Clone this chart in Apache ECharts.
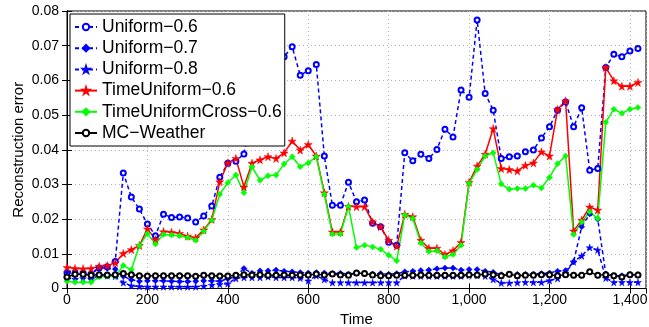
<!DOCTYPE html>
<html>
<head>
<meta charset="utf-8">
<script src="https://cdn.jsdelivr.net/npm/echarts@6/dist/echarts.min.js"></script>
<style>
html,body{margin:0;padding:0;background:#fff;}
#c{width:649px;height:327px;}
</style>
</head>
<body>
<div id="c"></div>
<script>
// Time axis: samples every 20 units
const times = [];
for (let t = 0; t <= 1420; t += 20) times.push(t);

const xTicks = [0, 200, 400, 600, 800, 1000, 1200, 1400];
const yTicks = [0, 0.01, 0.02, 0.03, 0.04, 0.05, 0.06, 0.07, 0.08];

const seriesNames = ['Uniform\u22120.6', 'Uniform\u22120.7', 'Uniform\u22120.8', 'TimeUniform\u22120.6', 'TimeUniformCross\u22120.6', 'MC\u2212Weather'];

const uniform06 = [0.0045,0.0044,0.0043,0.0041,0.0059,0.0063,0.0078,0.0333,0.0264,0.0229,
0.0186,0.0152,0.0214,0.0205,0.0206,0.0203,0.0192,0.0209,0.0238,0.0321,
0.0361,0.0367,0.0388,0.0500,0.0600,0.0640,0.0660,0.0668,0.0697,0.0615,
0.0628,0.0646,0.0382,0.0240,0.0240,0.0306,0.0250,0.0255,0.0188,0.0178,
0.0133,0.0125,0.0391,0.0368,0.0387,0.0375,0.0401,0.0459,0.0437,0.0572,
0.0551,0.0774,0.0562,0.0514,0.0375,0.0380,0.0382,0.0394,0.0399,0.0434,
0.0466,0.0514,0.0538,0.0466,0.0521,0.0341,0.0346,0.0637,0.0675,0.0668,
0.0685,0.0692];

const uniform07 = [0.0049,0.0051,0.0049,0.0044,0.0060,0.0058,0.0056,0.0035,0.0025,0.0021,
0.0022,0.0022,0.0022,0.0021,0.0020,0.0020,0.0021,0.0022,0.0022,0.0021,
0.0028,0.0034,0.0058,0.0044,0.0051,0.0051,0.0053,0.0050,0.0048,0.0046,
0.0045,0.0046,0.0045,0.0043,0.0044,0.0042,0.0044,0.0043,0.0042,0.0043,
0.0041,0.0043,0.0048,0.0050,0.0052,0.0053,0.0057,0.0059,0.0059,0.0053,
0.0055,0.0055,0.0050,0.0047,0.0040,0.0040,0.0041,0.0041,0.0042,0.0043,
0.0045,0.0050,0.0052,0.0077,0.0178,0.0215,0.0200,0.0042,0.0037,0.0037,
0.0040,0.0040];

const uniform08 = [0.0030,0.0027,0.0029,0.0027,0.0038,0.0037,0.0035,0.0017,0.0008,0.0006,
0.0005,0.0005,0.0005,0.0005,0.0005,0.0005,0.0005,0.0007,0.0010,0.0012,
0.0014,0.0029,0.0032,0.0032,0.0032,0.0034,0.0032,0.0032,0.0032,0.0030,
0.0022,0.0037,0.0026,0.0017,0.0017,0.0017,0.0017,0.0017,0.0017,0.0017,
0.0017,0.0017,0.0037,0.0036,0.0036,0.0036,0.0036,0.0036,0.0036,0.0036,
0.0038,0.0038,0.0036,0.0026,0.0016,0.0016,0.0017,0.0018,0.0018,0.0018,
0.0023,0.0029,0.0045,0.0077,0.0094,0.0118,0.0111,0.0030,0.0018,0.0018,
0.0018,0.0018];

const timeUniform06 = [0.0061,0.0058,0.0057,0.0058,0.0064,0.0066,0.0074,0.0101,0.0112,0.0124,
0.0172,0.0141,0.0164,0.0162,0.0159,0.0151,0.0146,0.0169,0.0199,0.0308,
0.0362,0.0375,0.0293,0.0361,0.0371,0.0380,0.0375,0.0391,0.0425,0.0399,
0.0415,0.0382,0.0276,0.0163,0.0163,0.0237,0.0236,0.0236,0.0192,0.0178,
0.0139,0.0122,0.0214,0.0207,0.0139,0.0116,0.0116,0.0098,0.0109,0.0133,
0.0306,0.0353,0.0387,0.0461,0.0346,0.0343,0.0339,0.0355,0.0362,0.0394,
0.0382,0.0516,0.0541,0.0166,0.0197,0.0235,0.0226,0.0637,0.0599,0.0583,
0.0583,0.0594];

const timeUniformCross06 = [0.0021,0.0018,0.0018,0.0018,0.0033,0.0035,0.0035,0.0066,0.0054,0.0123,
0.0158,0.0128,0.0156,0.0154,0.0152,0.0147,0.0139,0.0165,0.0197,0.0272,
0.0305,0.0327,0.0276,0.0351,0.0312,0.0325,0.0327,0.0359,0.0380,0.0351,
0.0362,0.0380,0.0272,0.0157,0.0157,0.0237,0.0118,0.0125,0.0120,0.0113,
0.0096,0.0080,0.0212,0.0202,0.0131,0.0107,0.0109,0.0091,0.0098,0.0125,
0.0303,0.0343,0.0382,0.0391,0.0301,0.0286,0.0288,0.0288,0.0298,0.0290,
0.0320,0.0360,0.0382,0.0156,0.0192,0.0221,0.0202,0.0479,0.0517,0.0505,
0.0517,0.0522];

const mcWeather = [0.0033,0.0041,0.0041,0.0038,0.0040,0.0039,0.0040,0.0043,0.0040,0.0037,
0.0036,0.0037,0.0037,0.0037,0.0037,0.0037,0.0035,0.0038,0.0037,0.0036,
0.0036,0.0038,0.0040,0.0039,0.0040,0.0038,0.0038,0.0039,0.0038,0.0039,
0.0039,0.0042,0.0039,0.0042,0.0039,0.0038,0.0045,0.0043,0.0039,0.0037,
0.0037,0.0038,0.0038,0.0038,0.0039,0.0038,0.0038,0.0038,0.0038,0.0038,
0.0040,0.0039,0.0042,0.0040,0.0037,0.0041,0.0037,0.0038,0.0038,0.0040,
0.0040,0.0037,0.0040,0.0038,0.0038,0.0048,0.0038,0.0040,0.0037,0.0033,
0.0040,0.0039];

const STAR = 'path://M50,0 L61,35 L98,35 L68,57 L79,91 L50,70 L21,91 L32,57 L2,35 L39,35 Z';
const FONT = 'Liberation Sans';

function pairs(vals){ return vals.map((v,i)=>[times[i], v]); }

function mk(name, vals, color, dashed, symbol, size, empty){
  return {
    name: name, type: 'line', data: pairs(vals),
    symbol: symbol, symbolSize: size, showSymbol: true,
    lineStyle: {color: color, width: 1.5, type: dashed ? [4,3] : 'solid'},
    itemStyle: {color: color, borderColor: color, borderWidth: empty ? 1.4 : 0.5},
    emphasis: {disabled: true}, animation: false
  };
}

const chart = echarts.init(document.getElementById('c'), null, {renderer: 'canvas'});
const fmtX = v => (v % 200 === 0 && v <= 1400) ? v.toLocaleString('en-US') : '';
const fmtY = v => { const s = yTicks.find(t => Math.abs(t - v) < 1e-9); return s === undefined ? '' : (s === 0 ? '0' : s.toFixed(2)); };

chart.setOption({
  backgroundColor: '#fff',
  animation: false,
  grid: {left: 67, top: 11, width: 579, height: 277.5, show: true, borderColor: '#000', borderWidth: 1,
         backgroundColor: 'transparent', containLabel: false, outerBoundsMode: 'none'},
  legend: {
    orient: 'vertical', left: 70, top: 14,
    data: seriesNames,
    backgroundColor: '#fff', borderColor: '#000', borderWidth: 1,
    padding: [4, 3, 4, 4], itemGap: 3.2, itemWidth: 22, itemHeight: 8,
    textStyle: {fontFamily: FONT, fontSize: 17.5, color: '#000'}
  },
  xAxis: [{
    type: 'value', min: 0, max: 1440, interval: 200,
    name: 'Time', nameLocation: 'middle', nameGap: 22,
    nameTextStyle: {fontFamily: FONT, fontSize: 15, color: '#000'},
    axisLine: {show: true, lineStyle: {color: '#000', width: 1}},
    axisTick: {show: true, inside: true, length: 5, lineStyle: {color: '#000'}},
    axisLabel: {formatter: fmtX, showMaxLabel: false, fontFamily: FONT, fontSize: 14, color: '#000', margin: 5},
    splitLine: {show: true, lineStyle: {color: '#b4b4b4', type: [1,3], width: 1}}
  }, {
    type: 'value', min: 0, max: 1440, interval: 200, position: 'top',
    axisLine: {show: true, lineStyle: {color: '#000'}},
    axisTick: {show: true, inside: true, length: 5, lineStyle: {color: '#000'}},
    axisLabel: {show: false}, splitLine: {show: false}
  }],
  yAxis: [{
    type: 'value', min: 0, max: 0.08, interval: 0.01,
    name: 'Reconstruction error', nameLocation: 'middle', nameGap: 41, nameMoveOverlap: false,
    nameTextStyle: {fontFamily: FONT, fontSize: 15, color: '#000'},
    axisLine: {show: true, lineStyle: {color: '#000', width: 1}},
    axisTick: {show: true, inside: true, length: 5, lineStyle: {color: '#000'}},
    axisLabel: {formatter: fmtY, fontFamily: FONT, fontSize: 14, color: '#000', margin: 8},
    splitLine: {show: true, lineStyle: {color: '#b4b4b4', type: [1,3], width: 1}}
  }, {
    type: 'value', min: 0, max: 0.08, interval: 0.01, position: 'right',
    axisLine: {show: true, lineStyle: {color: '#000'}},
    axisTick: {show: true, inside: true, length: 5, lineStyle: {color: '#000'}},
    axisLabel: {show: false}, splitLine: {show: false}
  }],
  series: [
    mk(seriesNames[0], uniform06, '#0000ff', true, 'emptyCircle', 5, true),
    mk(seriesNames[1], uniform07, '#0000ff', true, 'diamond', 6, false),
    mk(seriesNames[2], uniform08, '#0000ff', true, STAR, 7, false),
    mk(seriesNames[3], timeUniform06, '#ff0000', false, STAR, 8, false),
    mk(seriesNames[4], timeUniformCross06, '#00ff00', false, 'diamond', 6, false),
    mk(seriesNames[5], mcWeather, '#000000', false, 'emptyCircle', 5, true)
  ]
});
</script>
</body>
</html>
